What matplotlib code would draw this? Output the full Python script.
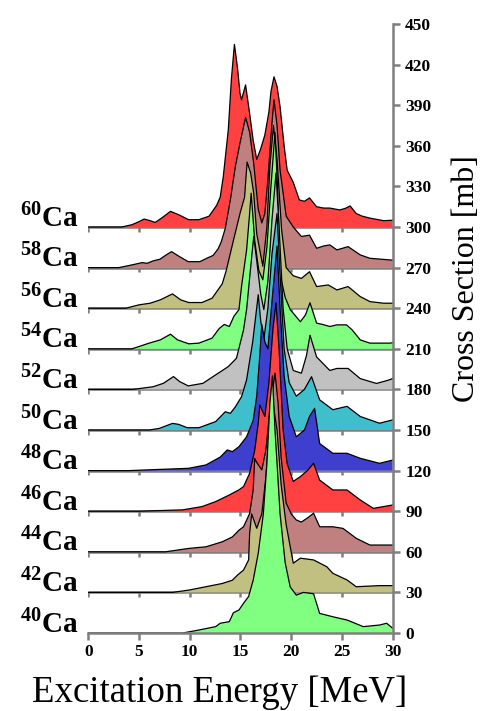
import matplotlib
matplotlib.use("Agg")
import matplotlib.pyplot as plt

plt.rcParams['font.family'] = ['Liberation Serif', 'DejaVu Serif']
plt.rcParams['mathtext.fontset'] = 'custom'
plt.rcParams['mathtext.rm'] = 'Liberation Serif'
plt.rcParams['mathtext.bf'] = 'Liberation Serif:bold'

# cross sections (mb), each above its own baseline
e60 = [0, 3.3, 4.3, 5.0, 5.5, 6.0, 6.6, 7.3, 8.1, 8.9, 9.9, 10.9, 11.9, 12.65, 13.0, 13.3, 13.8,
       14.1, 14.4, 14.7, 14.95, 15.1, 15.5, 15.9, 16.25, 16.6, 17.0, 17.4, 17.8, 18.0, 18.3, 18.6,
       18.9, 19.3, 19.6, 20.2, 20.8, 21.3, 21.8, 22.5, 23.2, 23.8, 24.8, 25.4, 25.8, 26.4, 27.0,
       27.8, 29.1, 30]
s60 = [0, 0, 1.7, 4, 5.9, 4.9, 3.4, 7, 11.6, 9.1, 5.4, 5.4, 8, 16, 22, 37, 72,
       109, 135, 118, 99, 94, 105, 84, 64, 50, 58, 68, 85, 100, 111, 104,
       89, 60, 42, 33, 20, 19, 21.5, 15, 14, 14, 12.6, 14, 15.6, 10, 8,
       6.5, 4.7, 5]

e58 = [0, 3.0, 3.8, 4.6, 5.3, 5.8, 6.4, 7.06, 7.6, 8.2, 9.0, 9.85, 11.0, 11.7, 12.3, 12.8, 13.1,
       13.5, 14.0, 14.5, 14.95, 15.5, 15.9, 16.3, 16.75, 17.1, 17.4, 17.7, 18.05, 18.3, 18.6, 18.9,
       19.5, 20.2, 21.0, 21.8, 22.5, 23.2, 23.8, 24.5, 25.6, 26.8, 27.75, 29.7, 30]
s58 = [0, 0, 1.2, 2.5, 3.7, 3.2, 5, 6.2, 9, 11.8, 8.1, 4.4, 4.4, 7, 9, 14, 19,
       29, 50, 75, 92, 111, 100, 77, 43, 33, 40, 65, 102, 124, 105, 72,
       38, 30, 23, 24, 14.3, 16, 16.8, 13.1, 15.5, 9.4, 6.9, 5.7, 5.5]

e56 = [0, 3.7, 5.0, 6.1, 7.1, 8.3, 9.1, 9.9, 11.2, 12.2, 13.2, 13.6, 14.3, 14.95, 15.4, 15.65,
       16.0, 16.3, 16.6, 17.2, 17.6, 17.9, 18.25, 18.6, 19.05, 19.5, 20.2, 21.0, 21.8, 22.5, 23.65,
       24.5, 25.6, 26.8, 27.75, 29.1, 30]
s56 = [0, 0, 2.5, 3.7, 6.2, 10.6, 6.2, 4.2, 4.2, 7.4, 18, 28, 50, 70, 82, 108,
       100, 85, 55, 31, 60, 105, 135, 110, 58, 30, 24, 22, 27, 16, 17.2,
       13.5, 16, 8.6, 4.9, 3.7, 3.7]

e54 = [0, 4.3, 5.0, 6.0, 7.1, 8.1, 8.8, 9.9, 10.9, 12.2, 12.9, 13.4, 13.9, 14.35, 14.85, 15.1,
       15.6, 15.9, 16.05, 16.4, 16.8, 17.2, 17.6, 18.0, 18.4, 18.65, 18.9, 19.4, 19.9, 20.9, 21.4,
       21.85, 22.5, 23.1, 23.8, 24.5, 25.45, 26.0, 26.8, 27.75, 29.7, 30]
s54 = [0, 0, 1.7, 4.2, 6.6, 10.8, 6.6, 3.7, 4.2, 7.9, 15, 18, 16.5, 24, 29, 46,
       73, 100, 115, 80, 58, 51, 75, 120, 160, 120, 55, 38, 29, 20, 25,
       34, 19, 18, 16.5, 17.7, 17.7, 14, 6.6, 4.2, 4.2, 4.5]

e52 = [0, 4.4, 6.4, 7.4, 8.4, 9.0, 9.85, 11.3, 12.3, 13.3, 13.8, 14.6, 15.3, 15.6, 16.0, 16.3,
       16.6, 17.0, 17.3, 17.7, 18.1, 18.5, 18.8, 19.2, 19.6, 20.2, 21.0, 21.5, 21.85, 22.5, 23.8,
       24.5, 25.6, 26.8, 28.4, 29.6, 30]
s52 = [0, 0, 2, 4.5, 9.5, 5.8, 2.6, 4.5, 9.5, 14.4, 16.9, 23, 44, 59, 90, 113,
       95, 70, 59, 80, 125, 160, 120, 60, 30, 14, 12, 25, 40, 24, 14,
       15.5, 15.5, 8, 4.4, 6.9, 8]

e50 = [0, 6.0, 7.0, 8.3, 8.9, 9.75, 10.9, 12.55, 13.5, 14.0, 14.5, 15.1, 15.6, 16.2, 16.75,
       17.0, 17.3, 17.7, 18.1, 18.6, 18.9, 19.3, 19.8, 20.5, 21.3, 22.0, 22.8, 24.1, 25.5, 26.8,
       28.7, 30]
s50 = [0, 0, 1.2, 4.9, 4.2, 1.7, 1.7, 6.2, 13.5, 12.3, 17.2, 24.6, 37, 65, 100,
       80, 67, 90, 130, 160, 115, 60, 35, 25, 30, 39.4, 22.3, 15, 17.5, 10,
       5, 7.5]

e48 = [0, 4.0, 9.9, 11.6, 13.0, 13.7, 14.2, 14.85, 15.6, 16.25, 16.6, 16.9, 17.1, 17.4, 17.7,
       18.1, 18.6, 18.9, 19.3, 19.8, 20.5, 21.3, 21.8, 22.3, 22.8, 24.1, 25.5, 26.8, 28.7, 30]
s48 = [0, 0, 1.7, 4.2, 10, 15.3, 14, 17.7, 25, 37, 55, 85, 108, 95, 90,
       125, 166, 120, 70, 40, 25, 30, 40, 46, 20, 12.8, 12.8, 9.1, 5.4, 7.8]

e46 = [0, 5.0, 9.3, 11.2, 12.55, 13.9, 14.85, 15.3, 15.9, 16.4, 16.75, 16.9, 17.1, 17.4, 17.8,
       18.2, 18.5, 18.8, 19.2, 19.6, 20.2, 20.9, 21.6, 22.2, 22.8, 24.1, 25.5, 26.8, 28.1, 30]
s46 = [0, 0, 1, 3.4, 7.1, 12, 15.8, 18.2, 28, 45, 65, 78.5, 75, 70, 95,
       135, 154, 120, 60, 35, 22, 25.6, 30, 35.4, 23, 15.7, 15.7, 8.3, 2.1, 4.6]

e44 = [0, 7.6, 9.9, 11.6, 13.2, 14.2, 14.85, 15.3, 15.9, 16.25, 16.4, 16.6, 17.1, 17.5, 17.9,
       18.4, 18.7, 19.0, 19.5, 20.0, 20.5, 21.0, 21.6, 22.2, 22.8, 24.1, 25.1, 26.4, 27.75, 30]
s44 = [0, 0, 2.5, 3.7, 7.4, 11, 16, 18.5, 28.3, 45.6, 69, 66, 60.5, 75, 105,
       132, 110, 70, 36, 28, 23.5, 22, 25, 28.5, 18.5, 18.5, 17.3, 10, 5, 5]

e42 = [0, 8.3, 9.9, 11.6, 13.2, 14.2, 14.7, 15.3, 15.8, 15.9, 16.1, 16.6, 17.1, 17.5, 17.9,
       18.2, 18.6, 19.0, 19.5, 20.2, 20.9, 22.2, 23.5, 24.1, 25.5, 26.4, 28.7, 30]
s42 = [0, 0, 1.7, 4.2, 6.6, 9, 12.8, 16.5, 24, 43.6, 58, 47.4, 58, 85, 125,
       140, 120, 80, 50, 21.6, 25.3, 24, 19, 14.1, 9.2, 4.2, 5, 5]

e40 = [0, 9.3, 10.9, 12.55, 13.0, 13.9, 14.3, 14.85, 15.3, 15.8, 16.25, 16.75, 17.25, 17.6,
       17.9, 18.15, 18.4, 18.7, 18.9, 19.4, 19.9, 20.5, 21.2, 22.2, 22.8, 24.1, 25.5, 27.1, 28.7,
       29.4, 30]
s40 = [0, 0, 2.2, 4.7, 7.2, 8.4, 15, 17, 22, 27, 39, 59, 88, 125,
       170, 190, 150, 113, 88, 52, 34, 28, 30, 29, 14.5, 12, 9.6, 4.7, 5.9,
       7.2, 3.5]

mass_numbers = [40, 42, 44, 46, 48, 50, 52, 54, 56, 58, 60]
offsets = [0, 30, 60, 90, 120, 150, 180, 210, 240, 270, 300]
energies = [e40, e42, e44, e46, e48, e50, e52, e54, e56, e58, e60]
sigmas = [s40, s42, s44, s46, s48, s50, s52, s54, s56, s58, s60]

RED, BROWN, KHAKI, GREEN = '#ff4141', '#c18080', '#c1c081', '#80ff80'
GREY, CYAN, BLUE = '#c1c1c1', '#3fbfcc', '#3f3fcf'
colors = [GREEN, KHAKI, BROWN, RED, BLUE, CYAN, GREY, GREEN, KHAKI, BROWN, RED]

AXIS_GREY = '#7f7f7f'
xticks = [0, 5, 10, 15, 20, 25, 30]

fig = plt.figure(figsize=(4.84, 7.11), dpi=100)
ax = fig.add_axes([0.1824, 0.1097, 0.629, 0.8565])
ax.set_xlim(0, 30)
ax.set_ylim(0, 450)

# top curve first, lower isotopes drawn in front
for k in range(len(mass_numbers) - 1, -1, -1):
    z = 10 + 3 * (len(mass_numbers) - k)
    b = offsets[k]
    e = energies[k]
    top = [b + v for v in sigmas[k]]
    if k > 0:
        ax.plot([0, 30], [b, b], color=AXIS_GREY, lw=1.8, zorder=z, solid_capstyle='butt')
        ax.vlines(xticks[:-1], b - 3.6, b, color=AXIS_GREY, lw=1.8, zorder=z)
    ax.fill_between(e, b, top, facecolor=colors[k], edgecolor='none', zorder=z + 1)
    ax.plot(e, top, color='black', lw=0.9, zorder=z + 2)
    ax.text(-0.9, b + 0.8, r'$^{\mathbf{%d}}$Ca' % mass_numbers[k], ha='right', va='baseline',
            fontsize=21, fontweight='bold', clip_on=False)

for side in ('left', 'top'):
    ax.spines[side].set_visible(False)
for side in ('bottom', 'right'):
    ax.spines[side].set_color(AXIS_GREY)
    ax.spines[side].set_linewidth(1.8)
    ax.spines[side].set_zorder(60)

ax.set_xticks(xticks)
ax.set_yticks(range(0, 451, 30))
ax.yaxis.tick_right()
ax.tick_params(axis='both', direction='out', length=5, width=1.8, color=AXIS_GREY,
               labelsize=12.5)
ax.tick_params(axis='x', pad=3)
ax.tick_params(axis='y', pad=4)
for lab in ax.get_xticklabels() + ax.get_yticklabels():
    lab.set_fontweight('bold')

fig.text(0.4545, 0.013, 'Excitation Energy [MeV]', ha='center', va='baseline', fontsize=26.5)
fig.text(0.963, 0.608, 'Cross Section [mb]', rotation=90, ha='center', va='center', fontsize=23)

fig.savefig('out.png', dpi=100)
